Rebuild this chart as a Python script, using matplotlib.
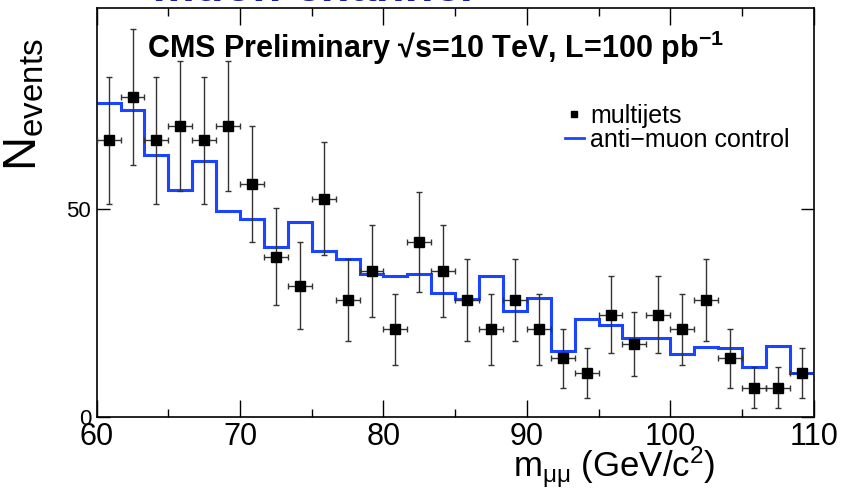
import numpy as np
import matplotlib
matplotlib.use("Agg")
import matplotlib.pyplot as plt
from matplotlib.ticker import MultipleLocator
from matplotlib.lines import Line2D

plt.rcParams['font.family'] = ['Liberation Sans', 'DejaVu Sans']
plt.rcParams['mathtext.fontset'] = 'custom'
plt.rcParams['mathtext.rm'] = 'Liberation Sans'
plt.rcParams['mathtext.it'] = 'Liberation Sans'
plt.rcParams['mathtext.bf'] = 'Liberation Sans:bold'

# bin edges: 30 bins from 60 to 110
edges = np.linspace(60, 110, 31)
centres = 0.5 * (edges[:-1] + edges[1:])

# multijets (points)
multijets = [66.5, 77, 66.5, 70, 66.5, 70, 56, 38.5, 31.5, 52.5,
             28, 35, 21, 42, 35, 28, 21, 28, 21, 14,
             10.5, 24.5, 17.5, 24.5, 21, 28, 14, 7, 7, 10.5]
multijets_err = [15.3, 16.4, 15.3, 15.7, 15.3, 15.7, 14.0, 11.6, 10.5, 13.6,
                 9.9, 11.1, 8.6, 12.1, 11.1, 9.9, 8.6, 9.9, 8.6, 7.0,
                 6.1, 9.3, 7.8, 9.3, 8.6, 9.9, 7.0, 4.9, 4.9, 6.1]

# anti-muon control (histogram)
antimuon = [75.6, 73.7, 63.0, 54.6, 61.6, 49.4, 47.5, 40.9, 46.8, 39.9,
            37.9, 34.3, 33.8, 34.3, 29.7, 28.3, 33.9, 25.4, 28.5, 15.8,
            23.5, 22.0, 18.9, 18.9, 15.0, 16.8, 16.5, 12.0, 17.1, 10.5]

blue = '#1a44ff'

fig = plt.figure(figsize=(8.46, 4.96), dpi=100)
ax = fig.add_axes([0.1143, 0.16, 0.8475, 0.8234])

ax.stairs(antimuon, edges, baseline=None, color=blue, lw=2.2, zorder=2)

ax.errorbar(centres, multijets, yerr=multijets_err, xerr=np.diff(edges) / 2,
            fmt='s', color='black', ecolor='#333333', elinewidth=1.0,
            capsize=2.2, capthick=1.0, markersize=6.5, zorder=3)

ax.set_xlim(60, 110)
ax.set_ylim(0, 98.3)
ax.set_xticks([60, 70, 80, 90, 100, 110])
ax.xaxis.set_minor_locator(MultipleLocator(5))
ax.set_yticks([0, 50])

for s in ax.spines.values():
    s.set_linewidth(1.2)

ax.tick_params(axis='x', which='major', direction='in', top=True, length=12,
               width=1.0, labelsize=22, pad=4)
ax.tick_params(axis='x', which='minor', direction='in', top=True, length=6,
               width=1.0)
ax.tick_params(axis='y', which='major', direction='in', right=True, length=9.5,
               width=1.0, labelsize=16, pad=4)

# axis titles
fig.text(715 / 846, 1 - 477 / 496, r'm$_{\mu\mu}$ (GeV/c$^{2}$)', fontsize=25,
         ha='right', va='baseline')
fig.text(24 / 846, 1 - 38 / 496, r'N$_{\mathrm{events}}$', fontsize=34,
         rotation=90, ha='center', va='top')

# header texts
fig.text(147 / 846, 1 - 58 / 496,
         'CMS Preliminary \u221as=10 TeV, L=100 pb$^{\\mathbf{-1}}$',
         fontsize=22, fontweight='bold', ha='left', va='baseline')
fig.text(155 / 846, 1 - 1 / 496, 'muon channel', fontsize=34,
         fontweight='bold', style='italic', color='#1a1a9c',
         ha='left', va='baseline')

handles = [Line2D([], [], marker='s', ls='none', color='black', markersize=5),
           Line2D([], [], color=blue, lw=2)]
ax.legend(handles, ['multijets', 'anti\u2212muon control'], loc='upper left',
          bbox_to_anchor=(0.653, 0.765), frameon=False, fontsize=18,
          handlelength=0.75, handletextpad=0.25, borderaxespad=0,
          borderpad=0, labelspacing=0.0)

fig.savefig('out.png', dpi=100)
